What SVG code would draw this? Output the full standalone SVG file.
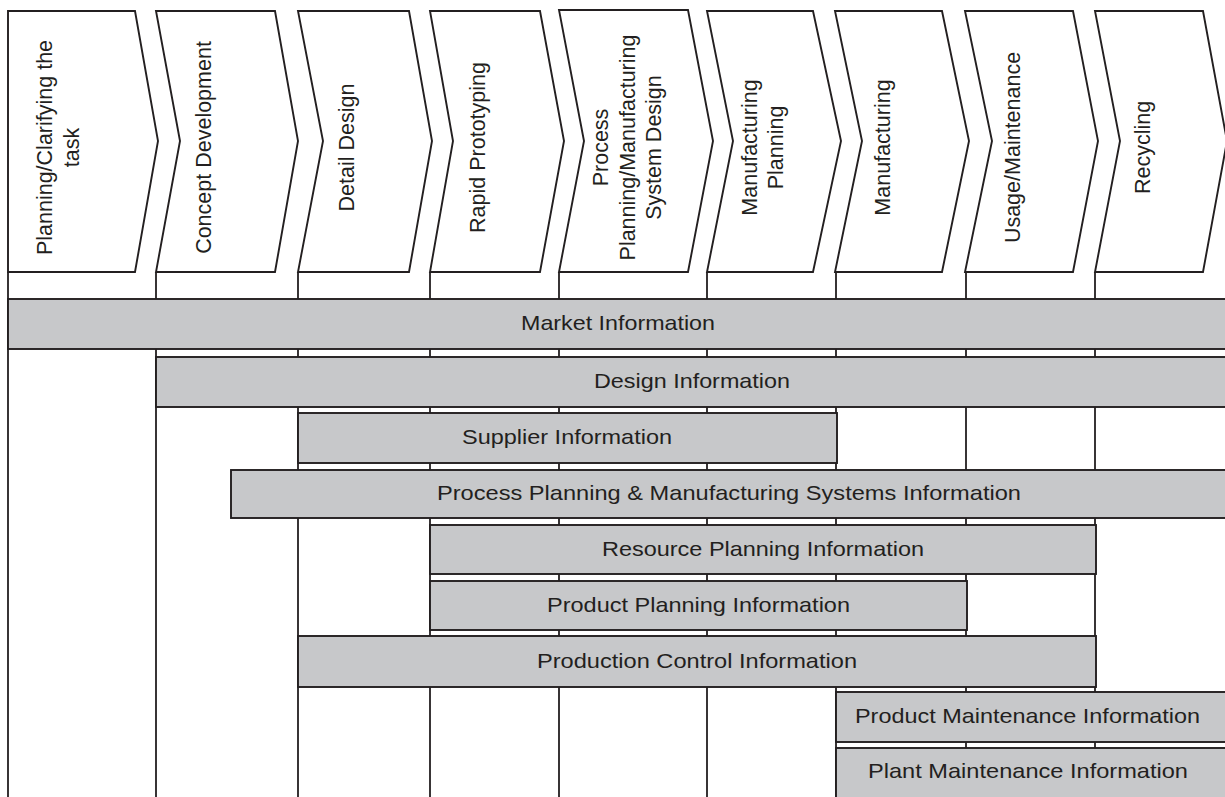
<svg xmlns="http://www.w3.org/2000/svg" width="1225" height="797" viewBox="0 0 1225 797">
<style>
.bg{fill:#ffffff}
.chev{fill:#ffffff;stroke:#231f20;stroke-width:1.9;stroke-linejoin:miter}
.lane{stroke:#231f20;stroke-width:1.8;fill:none}
.band{fill:#c7c8ca;stroke:#231f20;stroke-width:1.9}
.t{font-family:"Liberation Sans",Arial,sans-serif;font-size:21px;fill:#231f20;text-anchor:middle}
.r{font-size:21.5px}
</style>
<rect class="bg" x="0" y="0" width="1225" height="797"/>
<g id="lanes">
<line class="lane" x1="8" y1="272" x2="8" y2="800"/>
<line class="lane" x1="156" y1="272" x2="156" y2="800"/>
<line class="lane" x1="298" y1="272" x2="298" y2="800"/>
<line class="lane" x1="430" y1="272" x2="430" y2="800"/>
<line class="lane" x1="559" y1="272" x2="559" y2="800"/>
<line class="lane" x1="707" y1="272" x2="707" y2="800"/>
<line class="lane" x1="836" y1="272" x2="836" y2="800"/>
<line class="lane" x1="966" y1="272" x2="966" y2="800"/>
<line class="lane" x1="1095" y1="272" x2="1095" y2="800"/>
</g>
<g id="phase1">
<polygon class="chev" points="8,11 135,11 158,141 135,272 8,272"/>
<text class="t r" transform="translate(52,147.5) rotate(-90)">Planning/Clarifying the</text>
<text class="t r" transform="translate(78.5,147.5) rotate(-90)">task</text>
</g>
<g id="phase2">
<polygon class="chev" points="156,11 275,11 298,141 275,272 156,272 180,141"/>
<text class="t r" transform="translate(210.5,147.5) rotate(-90)">Concept Development</text>
</g>
<g id="phase3">
<polygon class="chev" points="298,11 409,11 432,141 409,272 298,272 323,141"/>
<text class="t r" transform="translate(354,147.5) rotate(-90)">Detail Design</text>
</g>
<g id="phase4">
<polygon class="chev" points="430,11 540,11 564,141 540,272 430,272 453,141"/>
<text class="t r" transform="translate(485,147.5) rotate(-90)">Rapid Prototyping</text>
</g>
<g id="phase5">
<polygon class="chev" points="559,10 688,10 713,141 688,272 559,272 584,141"/>
<text class="t r" transform="translate(608,147.5) rotate(-90)">Process</text>
<text class="t r" transform="translate(634.5,147.5) rotate(-90)">Planning/Manufacturing</text>
<text class="t r" transform="translate(661,147.5) rotate(-90)">System Design</text>
</g>
<g id="phase6">
<polygon class="chev" points="707,11 813,11 841,141 813,272 707,272 733,141"/>
<text class="t r" transform="translate(757,147.5) rotate(-90)">Manufacturing</text>
<text class="t r" transform="translate(783,147.5) rotate(-90)">Planning</text>
</g>
<g id="phase7">
<polygon class="chev" points="835,11 942,11 969,141 942,272 835,272 862,141"/>
<text class="t r" transform="translate(890,147.5) rotate(-90)">Manufacturing</text>
</g>
<g id="phase8">
<polygon class="chev" points="965,11 1073,11 1098,141 1073,272 965,272 992,141"/>
<text class="t r" transform="translate(1020,147.5) rotate(-90)">Usage/Maintenance</text>
</g>
<g id="phase9">
<polygon class="chev" points="1095,11 1203,11 1227,141 1203,272 1095,272 1120,141"/>
<text class="t r" transform="translate(1150,147.5) rotate(-90)">Recycling</text>
</g>
<g id="market">
<rect class="band" x="8" y="299" width="1224" height="50"/>
<text class="t" x="618" y="330" textLength="194" lengthAdjust="spacingAndGlyphs">Market Information</text>
</g>
<g id="design">
<rect class="band" x="156" y="357" width="1076" height="50"/>
<text class="t" x="692" y="388" textLength="196" lengthAdjust="spacingAndGlyphs">Design Information</text>
</g>
<g id="supplier">
<rect class="band" x="298" y="413" width="539" height="50"/>
<text class="t" x="567" y="444" textLength="210" lengthAdjust="spacingAndGlyphs">Supplier Information</text>
</g>
<g id="process">
<rect class="band" x="231" y="470" width="1001" height="48"/>
<text class="t" x="729" y="500" textLength="584" lengthAdjust="spacingAndGlyphs">Process Planning &amp; Manufacturing Systems Information</text>
</g>
<g id="resource">
<rect class="band" x="430" y="525" width="666" height="49"/>
<text class="t" x="763" y="556" textLength="322" lengthAdjust="spacingAndGlyphs">Resource Planning Information</text>
</g>
<g id="productplanning">
<rect class="band" x="430" y="581" width="537" height="49"/>
<text class="t" x="698.5" y="612" textLength="303" lengthAdjust="spacingAndGlyphs">Product Planning Information</text>
</g>
<g id="productioncontrol">
<rect class="band" x="298" y="636" width="798" height="51"/>
<text class="t" x="697" y="668" textLength="320" lengthAdjust="spacingAndGlyphs">Production Control Information</text>
</g>
<g id="productmaintenance">
<rect class="band" x="836" y="692" width="396" height="50"/>
<text class="t" x="1027.5" y="723" textLength="345" lengthAdjust="spacingAndGlyphs">Product Maintenance Information</text>
</g>
<g id="plantmaintenance">
<rect class="band" x="836" y="748" width="396" height="56"/>
<text class="t" x="1028" y="778" textLength="320" lengthAdjust="spacingAndGlyphs">Plant Maintenance Information</text>
</g>
</svg>
